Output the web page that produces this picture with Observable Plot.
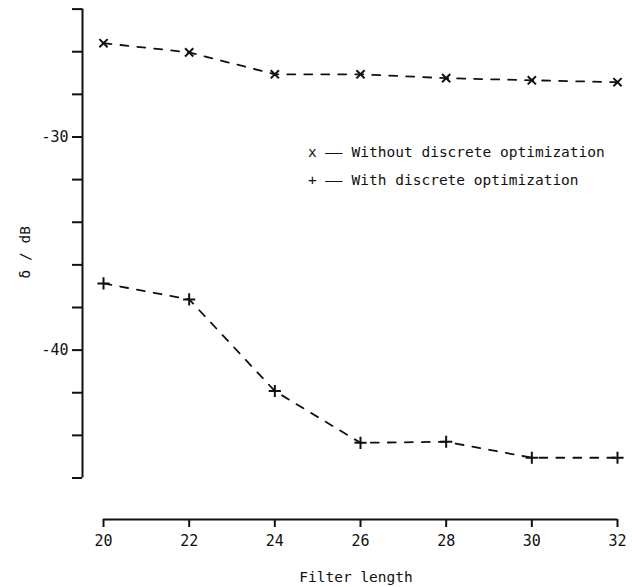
<!DOCTYPE html>
<html>
<head>
<meta charset="utf-8">
<script src="https://cdn.jsdelivr.net/npm/d3@7"></script>
<script src="https://cdn.jsdelivr.net/npm/@observablehq/plot@0.6"></script>
<style>
  html, body { margin: 0; padding: 0; background: #fff; }
  #wrap { position: relative; width: 632px; height: 587px; }
  .leg { position: absolute; left: 308px; font-family: "DejaVu Sans Mono", monospace; font-size: 14.5px; line-height: 16px; color: #111; white-space: nowrap; }
  .dash { display: inline-block; width: 17.4px; transform: scaleX(2); transform-origin: left center; }
</style>
</head>
<body>
<div id="wrap"></div>
<script>
// ---- data ----
const filterLength = [20, 22, 24, 26, 28, 30, 32];
const withoutOpt = [-25.60, -26.03, -27.06, -27.06, -27.24, -27.34, -27.43];
const withOpt = [-36.87, -37.62, -41.92, -44.35, -44.30, -45.05, -45.05];
const xTicks = [20, 22, 24, 26, 28, 30, 32];
const yTicks = [-46, -44, -42, -40, -38, -36, -34, -32, -30, -28, -26, -24];
const yLabelled = [-30, -40];
const seriesNames = ["Without discrete optimization", "With discrete optimization"];
const xLabel = "Filter length";
const yLabel = "δ / dB";

const rowsWithout = filterLength.map((x, i) => ({x, y: withoutOpt[i]}));
const rowsWith = filterLength.map((x, i) => ({x, y: withOpt[i]}));

const ink = "#111";
const dash = "8,9";

const chart = Plot.plot({
  width: 632,
  height: 587,
  marginLeft: 82,
  marginRight: 15,
  marginTop: 8.6,
  marginBottom: 68,
  style: {fontFamily: "DejaVu Sans Mono, monospace", fontSize: "15px", color: ink, background: "#fff"},
  x: {domain: [xTicks[0], xTicks[xTicks.length - 1]], insetLeft: 21},
  y: {domain: [yTicks[0], yTicks[yTicks.length - 1]], insetBottom: 41.5},
  marks: [
    // y axis line
    Plot.ruleX([xTicks[0]], {y1: yTicks[0], y2: yTicks[yTicks.length - 1], dx: -21, stroke: ink, strokeWidth: 2}),
    Plot.axisY(yTicks, {
      anchor: "left", tickSize: 10, tickPadding: 4, strokeWidth: 2, stroke: ink,
      tickFormat: d => yLabelled.includes(d) ? String(d) : "", label: null, fontSize: 15
    }),
    // x axis line
    Plot.ruleY([yTicks[0]], {x1: xTicks[0], x2: xTicks[xTicks.length - 1], dy: 41.5, stroke: ink, strokeWidth: 2}),
    Plot.axisX(xTicks, {
      anchor: "bottom", tickSize: 8, tickPadding: 8, strokeWidth: 2, stroke: ink,
      tickFormat: d => String(d), label: null, fontSize: 15
    }),
    // axis titles
    Plot.text([xLabel], {frameAnchor: "bottom", dx: 6, dy: 62, lineAnchor: "bottom", fontSize: 14.5, fill: ink}),
    Plot.text([yLabel], {frameAnchor: "left", textAnchor: "middle", rotate: -90, dx: -57, dy: -12, fontSize: 14.5, fill: ink}),
    // series
    Plot.line(rowsWithout, {x: "x", y: "y", stroke: ink, strokeWidth: 1.8, strokeDasharray: dash}),
    Plot.line(rowsWith, {x: "x", y: "y", stroke: ink, strokeWidth: 1.8, strokeDasharray: dash}),
    Plot.dot(rowsWithout, {x: "x", y: "y", symbol: "times", r: 3.8, stroke: ink, strokeWidth: 2}),
    Plot.dot(rowsWith, {x: "x", y: "y", symbol: "plus", r: 4, stroke: ink, strokeWidth: 2})
  ]
});

const wrap = document.getElementById("wrap");
wrap.appendChild(chart);

const legendTops = [144, 172];
const legendMarks = ["x", "+"];
seriesNames.forEach((name, i) => {
  const d = document.createElement("div");
  d.className = "leg";
  d.style.top = legendTops[i] + "px";
  d.innerHTML = `<span>${legendMarks[i]}</span> <span class="dash">—</span> <span>${name}</span>`;
  wrap.appendChild(d);
});
</script>
</body>
</html>
